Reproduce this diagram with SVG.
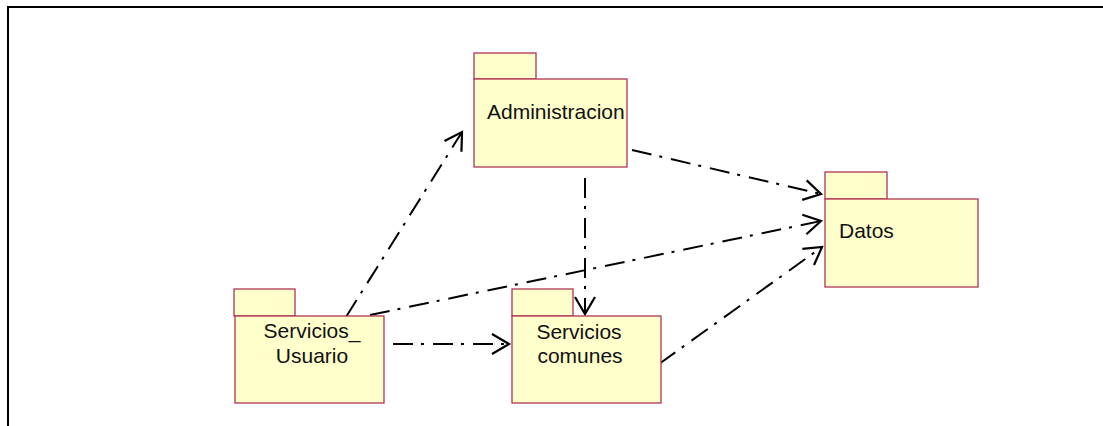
<svg xmlns="http://www.w3.org/2000/svg" width="1103" height="426" viewBox="0 0 1103 426">
<style>
.pkg{fill:#ffffcc;stroke:#b03355;stroke-width:1.3}
.lbl{font-family:"Liberation Sans",Arial,sans-serif;font-size:21px;fill:#111}
.dep{fill:none;stroke:#000;stroke-width:2;stroke-dasharray:20 8 3 9}
</style>
<defs>
<marker id="open" markerUnits="userSpaceOnUse" markerWidth="24" markerHeight="24" viewBox="-20 -12 24 24" refX="0" refY="0" orient="auto">
<path d="M-17,-10 L0,0 L-17,10" fill="none" stroke="#000" stroke-width="2.2"/>
</marker>
</defs>
<rect width="1103" height="426" fill="#fff"/>
<path d="M8,426 V7 H1103" fill="none" stroke="#000" stroke-width="2"/>
<g id="connectors">
<line class="dep" x1="346" y1="317" x2="462" y2="132" marker-end="url(#open)"/>
<line class="dep" x1="632" y1="150" x2="821" y2="194" marker-end="url(#open)"/>
<line class="dep" x1="585" y1="178" x2="585" y2="314" marker-end="url(#open)"/>
<line class="dep" x1="370" y1="315" x2="821" y2="221" marker-end="url(#open)"/>
<line class="dep" x1="393" y1="344" x2="509" y2="344" marker-end="url(#open)"/>
<line class="dep" x1="659" y1="364" x2="822" y2="247" marker-end="url(#open)"/>
</g>
<g id="administracion">
<rect class="pkg" x="474" y="53" width="62" height="26"/>
<rect class="pkg" x="474" y="79" width="153" height="88"/>
<text class="lbl" x="487" y="119">Administracion</text>
</g>
<g id="datos">
<rect class="pkg" x="825" y="172" width="62" height="27"/>
<rect class="pkg" x="825" y="199" width="153" height="88"/>
<text class="lbl" x="839" y="238">Datos</text>
</g>
<g id="servicios_usuario">
<rect class="pkg" x="234" y="289" width="61" height="27"/>
<rect class="pkg" x="235" y="316" width="149" height="87"/>
<text class="lbl" x="312" y="338" text-anchor="middle">Servicios_</text>
<text class="lbl" x="312" y="363" text-anchor="middle">Usuario</text>
</g>
<g id="servicios_comunes">
<rect class="pkg" x="512" y="289" width="61" height="27"/>
<rect class="pkg" x="512" y="316" width="149" height="87"/>
<text class="lbl" x="579" y="339" text-anchor="middle">Servicios</text>
<text class="lbl" x="580" y="363" text-anchor="middle">comunes</text>
</g>
</svg>
